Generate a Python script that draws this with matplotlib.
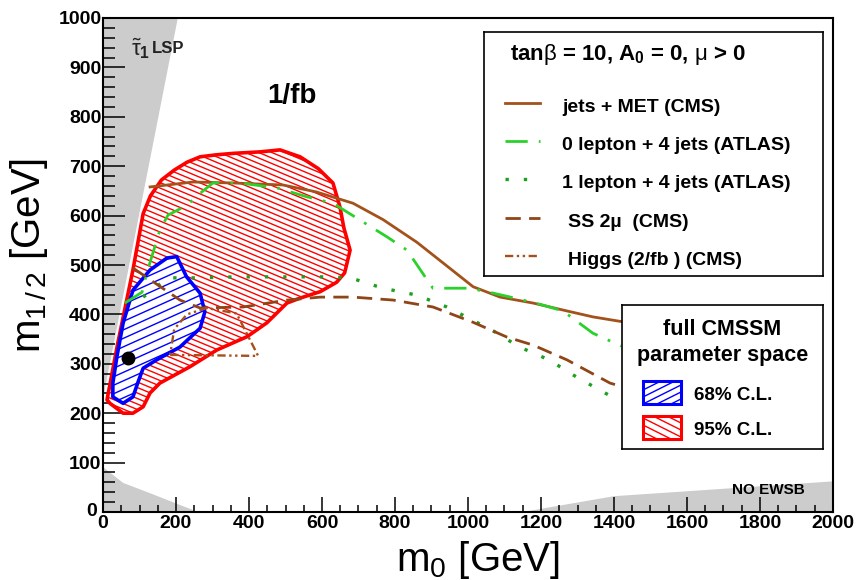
"""
CMSSM (m0, m1/2) plane at tan(beta)=10: fit contours vs. 1/fb LHC limits.
"""

import matplotlib
matplotlib.use("Agg")
import matplotlib.pyplot as plt
import numpy as np
from matplotlib.collections import LineCollection
from matplotlib.lines import Line2D
from matplotlib.patches import Polygon, Rectangle
from matplotlib.ticker import FuncFormatter, MultipleLocator
from matplotlib.transforms import ScaledTranslation

plt.rcParams["font.family"] = ["Liberation Sans", "DejaVu Sans"]
plt.rcParams["mathtext.fontset"] = "custom"
plt.rcParams["mathtext.rm"] = "Liberation Sans"
plt.rcParams["mathtext.it"] = "Liberation Sans:italic"
plt.rcParams["mathtext.bf"] = "Liberation Sans:bold"

# ---- data (GeV) ----
stau_m0 = [0, 205, 0]
stau_m12 = [1000, 1000, 230]

noewsb_left_m0 = [0, 0, 55, 129, 260]
noewsb_left_m12 = [0, 91, 59, 38, 0]
noewsb_right_m0 = [1150, 1400, 2000, 2000]
noewsb_right_m12 = [0, 32, 62, 0]

cl95_m0 = [11, 40, 82, 110, 130, 160, 195, 230, 266, 310, 357, 430, 485, 540,
           590, 630, 649, 660, 677, 662, 640, 595, 540, 504, 449, 395, 312,
           238, 156, 129, 110, 82, 55, 19]
cl95_m12 = [227, 340, 490, 604, 640, 672, 692, 708, 719, 723, 726, 729, 733,
            719, 695, 666, 618, 575, 530, 484, 465, 446, 433, 423, 383, 355,
            328, 294, 261, 241, 213, 200, 200, 220]

cl68_m0 = [27, 27, 38, 55, 82, 129, 175, 202, 229, 266, 279, 266, 211, 147,
           110, 96, 82, 55]
cl68_m12 = [233, 261, 314, 382, 449, 490, 514, 517, 476, 443, 405, 372, 334,
            308, 291, 263, 233, 220]

best_fit_m0 = [69]
best_fit_m12 = [311]

jets_met_m0 = [129, 247, 357, 493, 584, 685, 767, 860, 932, 1014, 1088, 1178,
               1271, 1342, 1416, 1440]
jets_met_m12 = [658, 668, 666, 662, 648, 625, 592, 546, 504, 456, 435, 423,
                407, 395, 386, 384]

zero_lep_m0 = [60, 107, 120, 156, 178, 230, 266, 301, 375, 477, 559, 630, 704,
               778, 833, 888, 904, 997, 1040, 1134, 1200, 1260, 1342, 1420]
zero_lep_m12 = [423, 445, 484, 571, 601, 621, 645, 666, 666, 656, 638, 625,
                591, 557, 530, 470, 453, 453, 448, 432, 420, 407, 362, 336]

one_lep_m0 = [110, 178, 266, 357, 449, 540, 630, 682, 767, 860, 942, 1066,
              1141, 1222, 1300, 1385]
one_lep_m12 = [435, 474, 474, 476, 476, 476, 476, 473, 453, 439, 415, 368,
               334, 308, 272, 237]

ss2mu_m0 = [82, 211, 266, 384, 504, 595, 685, 795, 904, 1014, 1107, 1178,
            1271, 1389, 1430]
ss2mu_m12 = [494, 429, 413, 415, 429, 435, 435, 429, 415, 384, 354, 338,
             308, 261, 252]

higgs_m0 = [184, 425, 366, 284, 230, 195, 184]
higgs_m12 = [318, 316, 402, 413, 400, 370, 318]

legend_labels = ["jets + MET (CMS)", "0 lepton + 4 jets (ATLAS)",
                 "1 lepton + 4 jets (ATLAS)", "SS 2\u00b5  (CMS)",
                 "Higgs (2/fb ) (CMS)"]

# ---- styles ----
BROWN = "#a3521c"
GREEN = "#2bd12b"
DKGREEN = "#1f9f1f"
GRAY = "#cccccc"
STYLES = [
    dict(color=BROWN, lw=2.0, ls="-"),
    dict(color=GREEN, lw=2.0, ls=(0, (8, 4, 1, 4))),
    dict(color=DKGREEN, lw=2.4, ls=(0, (1, 4.5))),
    dict(color="#8f4517", lw=2.0, ls=(0, (5.5, 3))),
    dict(color=BROWN, lw=1.7, ls=(0, (3.5, 1.5, 1, 1.5, 1, 1.5))),
]

FIG_W, FIG_H = 858, 580
AX_L, AX_R, AX_T, AX_B = 103, 833, 18, 512


def add_hatch(ax, patch, slope, spacing, color, lw, zorder, w, h,
              sx, sy, transform):
    """Parallel lines y = c + slope*x over a w x h frame, clipped to patch."""
    span = abs(slope) * w
    cs = np.arange(-span - spacing, h + span + spacing, spacing)
    segs = [[(0, c * sy), (w * sx, (c + slope * w) * sy)] for c in cs]
    lc = LineCollection(segs, colors=color, linewidths=lw, zorder=zorder,
                        transform=transform)
    ax.add_collection(lc, autolim=False)
    lc.set_clip_path(patch)


fig = plt.figure(figsize=(FIG_W / 100, FIG_H / 100), dpi=100)
ax = fig.add_axes([AX_L / FIG_W, (FIG_H - AX_B) / FIG_H,
                   (AX_R - AX_L) / FIG_W, (AX_B - AX_T) / FIG_H])
W, H = AX_R - AX_L, AX_B - AX_T

# excluded theory regions
ax.fill(stau_m0, stau_m12, color=GRAY, lw=0, zorder=1)
ax.fill(noewsb_left_m0, noewsb_left_m12, color=GRAY, lw=0, zorder=1)
ax.fill(noewsb_right_m0, noewsb_right_m12, color=GRAY, lw=0, zorder=1)

# fit contours with hatching
for m0, m12, col, slope, sp, z in [(cl95_m0, cl95_m12, "red", -0.42, 5.5, 2),
                                   (cl68_m0, cl68_m12, "blue", 0.45, 8.5, 3)]:
    xy = np.column_stack([m0, m12])
    fill = Polygon(xy, closed=True, facecolor="white", edgecolor="none",
                   zorder=z)
    ax.add_patch(fill)
    add_hatch(ax, fill, slope, sp, col, 1.0, z + 0.1, W, H, 1 / W, 1 / H,
              ax.transAxes)
    ax.add_patch(Polygon(xy, closed=True, facecolor="none", edgecolor=col,
                         lw=2.6, joinstyle="round", zorder=z + 0.2))

# experimental limits
for (m0, m12), st in zip([(jets_met_m0, jets_met_m12),
                          (zero_lep_m0, zero_lep_m12),
                          (one_lep_m0, one_lep_m12),
                          (ss2mu_m0, ss2mu_m12),
                          (higgs_m0, higgs_m12)], STYLES):
    ax.plot(m0, m12, color=st["color"], lw=st["lw"], linestyle=st["ls"],
            zorder=5)

ax.plot(best_fit_m0, best_fit_m12, "o", color="black", ms=9, zorder=6)

ax.text(517, 842, "1/fb", fontsize=20, fontweight="bold", ha="center",
        va="center")
ax.text(78, 938, r"$\tilde{\mathrm{\tau}}_{\mathbf{1}}$", fontsize=16,
        ha="left", va="center", color="#222222")
ax.text(134, 938, "LSP", fontsize=12, fontweight="bold", ha="left",
        va="center", color="#222222")
ax.text(1923, 45, "NO EWSB", fontsize=11, fontweight="bold", ha="right",
        va="center")

ax.set_xlim(0, 2000)
ax.set_ylim(0, 1000)
ax.xaxis.set_major_locator(MultipleLocator(200))
ax.xaxis.set_minor_locator(MultipleLocator(50))
ax.yaxis.set_major_locator(MultipleLocator(100))
ax.yaxis.set_minor_locator(MultipleLocator(20))
# the y-axis "0" is drawn separately, nudged left of the x-axis "0" as ROOT does
ax.yaxis.set_major_formatter(FuncFormatter(lambda v, _: "" if v == 0
                                           else f"{v:.0f}"))
ax.tick_params(which="both", direction="in", top=False, right=False,
               width=1.1, labelsize=14)
ax.tick_params(axis="x", which="major", length=11, pad=2.5)
ax.tick_params(axis="x", which="minor", length=5)
ax.tick_params(axis="y", which="major", length=16, pad=1)
ax.tick_params(axis="y", which="minor", length=8.5)
for lab in ax.get_xticklabels() + ax.get_yticklabels():
    lab.set_fontweight("bold")
ax.text(0, 0, "0", fontsize=14, fontweight="bold", ha="right", va="center",
        transform=ax.transAxes
        + ScaledTranslation(-6 / 100, 0, fig.dpi_scale_trans))
for sp in ax.spines.values():
    sp.set_linewidth(1.5)

ax.set_xlabel(r"m$_0$ [GeV]", fontsize=29)
ax.xaxis.set_label_coords(0.513, -0.055)
ax.set_ylabel(r"m$_{1\,/\,2}$ [GeV]", fontsize=29)
ax.yaxis.set_label_coords(-0.072, 0.52)

# ---- legend 1: experimental limits ----
L1 = (484, 32, 823, 276)
leg1 = fig.add_axes([L1[0] / FIG_W, (FIG_H - L1[3]) / FIG_H,
                     (L1[2] - L1[0]) / FIG_W, (L1[3] - L1[1]) / FIG_H])
leg1.set_xlim(0, L1[2] - L1[0])
leg1.set_ylim(L1[3] - L1[1], 0)
leg1.set_xticks([])
leg1.set_yticks([])
for sp in leg1.spines.values():
    sp.set_linewidth(1.2)
leg1.text(26, 28,
          r"tan$\mathrm{\beta}$ = 10, A$_{\mathbf{0}}$ = 0, $\mathrm{\mu}$ > 0",
          fontsize=16, fontweight="bold", ha="left", va="baseline")
row_base = [80, 118, 156, 195, 233]
text_x = [78, 78, 78, 84, 84]
for lab, st, yb, tx in zip(legend_labels, STYLES, row_base, text_x):
    leg1.add_line(Line2D([21, 56], [yb - 9, yb - 9], color=st["color"],
                         lw=st["lw"], linestyle=st["ls"]))
    leg1.text(tx, yb, lab, fontsize=14, fontweight="bold", ha="left",
              va="baseline")

# ---- legend 2: fit contours ----
L2 = (622, 305, 823, 449)
leg2 = fig.add_axes([L2[0] / FIG_W, (FIG_H - L2[3]) / FIG_H,
                     (L2[2] - L2[0]) / FIG_W, (L2[3] - L2[1]) / FIG_H])
leg2.set_xlim(0, L2[2] - L2[0])
leg2.set_ylim(L2[3] - L2[1], 0)
leg2.set_xticks([])
leg2.set_yticks([])
for sp in leg2.spines.values():
    sp.set_linewidth(1.2)
leg2.text(100.5, 30, "full CMSSM", fontsize=15.5, fontweight="bold",
          ha="center", va="baseline")
leg2.text(100.5, 56, "parameter space", fontsize=15.5, fontweight="bold",
          ha="center", va="baseline")
for y0, col, slope, lab in [(76, "blue", -0.5, "68% C.L."),
                            (111, "red", 0.5, "95% C.L.")]:
    box = Rectangle((21, y0), 38, 23, facecolor="white", edgecolor="none")
    leg2.add_patch(box)
    add_hatch(leg2, box, slope, 7, col, 1.0, 2, 201, 144, 1, 1,
              leg2.transData)
    leg2.add_patch(Rectangle((21, y0), 38, 23, facecolor="none",
                             edgecolor=col, lw=2.2, zorder=3))
    leg2.text(72, y0 + 19, lab, fontsize=13.5, fontweight="bold",
              ha="left", va="baseline")

fig.savefig("out.png", dpi=100)
